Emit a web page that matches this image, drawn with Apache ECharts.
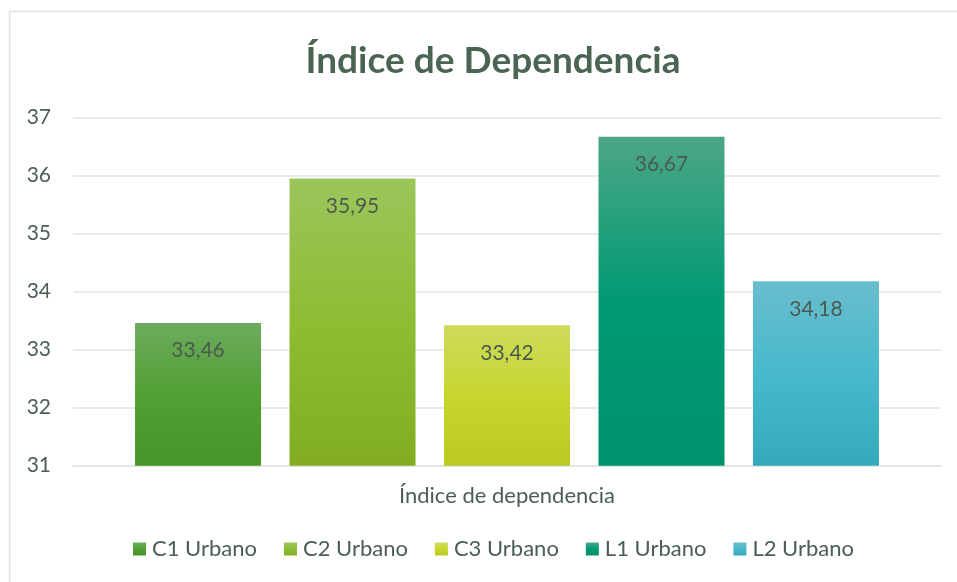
<!DOCTYPE html>
<html>
<head>
<meta charset="utf-8">
<script src="https://cdn.jsdelivr.net/npm/echarts@6/dist/echarts.min.js"></script>
<style>
  html, body { margin: 0; padding: 0; background: #ffffff; }
  #chart { width: 957px; height: 582px; }
</style>
</head>
<body>
<div id="chart"></div>
<script>
// Dependency index by zone
const categories = ['Índice de dependencia'];
const seriesNames = ['C1 Urbano', 'C2 Urbano', 'C3 Urbano', 'L1 Urbano', 'L2 Urbano'];
const seriesValues = [33.46, 35.95, 33.42, 36.67, 34.18];
const yTicks = { min: 31, max: 37, step: 1 };

// top / middle / bottom colours of each bar's vertical gradient
const gradientStops = [
  ['#6cab5e', '#52a033', '#46942a'],
  ['#9cc55b', '#8dbd33', '#82ad22'],
  ['#cfdb5c', '#c6d52f', '#bbca23'],
  ['#4ca687', '#009a73', '#00926d'],
  ['#68bdcd', '#48b9cc', '#35a9bb']
];

const textColor = '#4a5e52';
const gridColor = '#e0e5e3';
const fontFamily = 'Lato, "Open Sans", sans-serif';

const chart = echarts.init(document.getElementById('chart'), null, { renderer: 'canvas' });

const series = seriesNames.map((name, i) => ({
  name: name,
  type: 'bar',
  data: [seriesValues[i]],
  barWidth: 126,
  barGap: '22.6%',
  itemStyle: {
    color: new echarts.graphic.LinearGradient(0, 0, 0, 1, [
      { offset: 0, color: gradientStops[i][0] },
      { offset: 0.5, color: gradientStops[i][1] },
      { offset: 1, color: gradientStops[i][2] }
    ])
  },
  label: {
    show: true,
    position: 'insideTop',
    distance: 17,
    fontSize: 21,
    fontFamily: fontFamily,
    color: '#4b5a50',
    formatter: p => p.value.toFixed(2).replace('.', ',')
  },
  emphasis: { disabled: true }
}));

chart.setOption({
  animation: false,
  backgroundColor: '#ffffff',
  title: {
    text: 'Índice de Dependencia',
    left: 488,
    textAlign: 'center',
    top: 38,
    textStyle: {
      fontFamily: fontFamily,
      fontSize: 37,
      fontWeight: 'bold',
      color: '#4a6551'
    }
  },
  graphic: [{
    type: 'rect',
    silent: true,
    shape: { x: 9.5, y: 11.5, width: 1000, height: 1000 },
    style: { fill: 'none', stroke: gridColor, lineWidth: 1.5 }
  }],
  legend: {
    bottom: 17,
    left: 128,
    icon: 'rect',
    itemWidth: 13,
    itemHeight: 13,
    itemGap: 27,
    textStyle: { fontFamily: fontFamily, fontSize: 22, color: textColor, padding: [0, 0, 0, 1] },
    data: seriesNames
  },
  grid: { left: 73, right: 16, top: 117.7, bottom: 116.3, containLabel: false },
  xAxis: {
    type: 'category',
    data: categories,
    axisLine: { show: true, lineStyle: { color: gridColor, width: 1.5 } },
    axisTick: { show: false },
    axisLabel: { margin: 19, fontFamily: fontFamily, fontSize: 22, color: textColor }
  },
  yAxis: {
    type: 'value',
    min: yTicks.min,
    max: yTicks.max,
    interval: yTicks.step,
    axisLine: { show: false },
    axisTick: { show: false },
    splitLine: { lineStyle: { color: gridColor, width: 1.5 } },
    axisLabel: { margin: 22, fontFamily: fontFamily, fontSize: 21, color: textColor }
  },
  series: series
});
</script>
</body>
</html>
